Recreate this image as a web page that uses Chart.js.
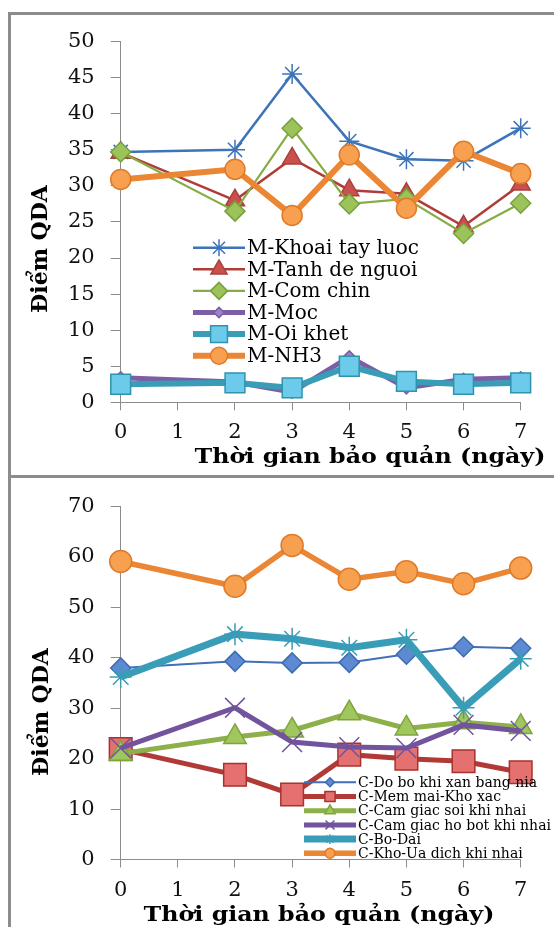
<!DOCTYPE html>
<html lang="vi">
    <head>
        <meta charset="UTF-8" />
        <title>Điểm QDA</title>
        <script src="https://cdn.jsdelivr.net/npm/chart.js"></script>
        <style>
            body {
                margin: 0;
                background: #fff;
            }
            #page {
                position: relative;
                width: 554px;
                height: 927px;
                overflow: hidden;
                background: #fff;
            }
            #frame {
                position: absolute;
                left: 8px;
                top: 12px;
                width: 700px;
                height: 1000px;
                border-left: 3px solid #8c8c8c;
                border-top: 3px solid #8c8c8c;
            }
            #divider {
                position: absolute;
                left: 8px;
                top: 475px;
                width: 700px;
                height: 3px;
                background: #8c8c8c;
            }
            canvas {
                position: absolute;
                left: 0;
            }
            .xtitle,
            .ytitle {
                position: absolute;
                font-family: "DejaVu Serif", serif;
                font-weight: bold;
                font-size: 21px;
                white-space: nowrap;
                color: #000;
                line-height: 1;
            }
            .xtitle {
                transform: translateX(-50%) scaleX(1.13);
            }
            .ytitle {
                transform: translate(-50%, -50%) rotate(-90deg);
                font-size: 22px;
            }
        </style>
    </head>
    <body>
        <div id="page">
            <div id="frame"></div>
            <div id="divider"></div>
            <canvas id="topChart" width="554" height="463" style="top: 13px"></canvas>
            <canvas id="bottomChart" width="554" height="449" style="top: 478px"></canvas>
            <div class="ytitle" style="left: 39px; top: 249px">Điểm QDA</div>
            <div class="xtitle" style="left: 370px; top: 445px">Thời gian bảo quản (ngày)</div>
            <div class="ytitle" style="left: 40px; top: 712px">Điểm QDA</div>
            <div class="xtitle" style="left: 319px; top: 903px">Thời gian bảo quản (ngày)</div>
        </div>
        <script>
            // storage days (x values)
            const days = [0, 2, 3, 4, 5, 6, 7];

            // top chart: mui (M-)
            const khoaiTayLuoc = [34.7, 35.0, 45.5, 36.2, 33.7, 33.5, 38.0];
            const tanhDeNguoi = [34.6, 28.0, 33.8, 29.4, 28.9, 24.4, 30.2];
            const comChin = [34.7, 26.5, 38.0, 27.5, 28.2, 23.4, 27.6];
            const moc = [3.4, 2.8, 1.4, 6.3, 2.0, 3.2, 3.4];
            const oiKhet = [2.5, 2.7, 2.0, 5.0, 2.9, 2.5, 2.7];
            const nh3 = [30.9, 32.3, 25.9, 34.3, 26.9, 34.8, 31.7];

            // bottom chart: cam giac (C-)
            const doBo = [38.0, 39.3, 39.0, 39.1, 40.7, 42.2, 41.9];
            const memMai = [21.9, 16.8, 12.9, 20.8, 20.0, 19.5, 17.3];
            const camGiacSoi = [21.0, 24.3, 25.6, 29.0, 26.0, 27.2, 26.3];
            const hoBot = [22.1, 30.1, 23.3, 22.3, 22.1, 26.7, 25.5];
            const boDai = [36.2, 44.7, 43.8, 42.0, 43.6, 30.1, 39.8];
            const khoUa = [59.1, 54.2, 62.3, 55.6, 57.1, 54.7, 57.8];

            const toPoints = (values) => values.map((v, i) => ({ x: days[i], y: v }));

            function series(label, values, color, width, style, radius, fill, edge) {
                return {
                    label: label,
                    data: toPoints(values),
                    borderColor: color,
                    borderWidth: width,
                    pointStyle: style,
                    pointRadius: radius,
                    pointBackgroundColor: fill,
                    pointBorderColor: edge,
                    pointBorderWidth: 1.5,
                    clip: false,
                };
            }

            // legend drawn inside the plot, line + marker + text
            const insideLegend = {
                id: "insideLegend",
                afterDraw(chart, args, opts) {
                    const ctx = chart.ctx;
                    ctx.save();
                    chart.data.datasets.forEach((ds, i) => {
                        const y = opts.top + i * opts.rowGap;
                        const x0 = opts.left;
                        const x1 = opts.left + opts.lineLength;
                        ctx.strokeStyle = ds.borderColor;
                        ctx.lineWidth = ds.borderWidth;
                        ctx.beginPath();
                        ctx.moveTo(x0, y);
                        ctx.lineTo(x1, y);
                        ctx.stroke();
                        ctx.fillStyle = ds.pointBackgroundColor;
                        ctx.strokeStyle = ds.pointBorderColor;
                        ctx.lineWidth = ds.pointBorderWidth;
                        Chart.helpers.drawPoint(
                            ctx,
                            {
                                pointStyle: ds.pointStyle,
                                radius: ds.pointRadius * opts.markerScale,
                                borderWidth: ds.pointBorderWidth,
                                rotation: 0,
                            },
                            (x0 + x1) / 2,
                            y
                        );
                        ctx.fillStyle = "#000";
                        ctx.font = opts.font;
                        ctx.textBaseline = "middle";
                        ctx.textAlign = "left";
                        ctx.fillText(ds.label, x1 + opts.gap, y + 1);
                    });
                    ctx.restore();
                },
            };

            function makeOptions(yMax, yStep, pad, xHeight, legend) {
                return {
                    responsive: false,
                    animation: false,
                    devicePixelRatio: 1,
                    layout: { padding: pad },
                    plugins: {
                        legend: { display: false },
                        tooltip: { enabled: false },
                        insideLegend: legend,
                    },
                    scales: {
                        x: {
                            type: "linear",
                            min: 0,
                            max: 7,
                            afterFit: (scale) => {
                                scale.height = xHeight;
                            },
                            ticks: {
                                stepSize: 1,
                                padding: 10,
                                color: "#111",
                                font: { family: "DejaVu Serif", size: 21 },
                            },
                            grid: {
                                drawOnChartArea: false,
                                tickLength: 8,
                                color: "#8c8c8c",
                            },
                            border: { color: "#8c8c8c" },
                        },
                        y: {
                            min: 0,
                            max: yMax,
                            afterFit: (scale) => {
                                scale.width = 120.7;
                            },
                            ticks: {
                                stepSize: yStep,
                                padding: 16,
                                color: "#111",
                                font: { family: "DejaVu Serif", size: 21 },
                            },
                            grid: {
                                drawOnChartArea: false,
                                tickLength: 10,
                                color: "#8c8c8c",
                            },
                            border: { color: "#8c8c8c" },
                        },
                    },
                };
            }

            const topSets = [
                series("M-Khoai tay luoc", khoaiTayLuoc, "#3d73b8", 2.5, "star", 10, "#3d73b8", "#3d73b8"),
                series("M-Tanh de nguoi", tanhDeNguoi, "#b03c38", 2.5, "triangle", 11, "#c9504c", "#a8403c"),
                series("M-Com chin", comChin, "#86ad45", 2.2, "rectRot", 10, "#9cc25a", "#78a03c"),
                series("M-Moc", moc, "#7b5ea3", 5, "rectRot", 6, "#9b84c4", "#7b5ea3"),
                series("M-Oi khet", oiKhet, "#3a9db8", 6, "rect", 14, "#6ccbea", "#2f93ae"),
                series("M-NH3", nh3, "#ea8634", 6, "circle", 10, "#f7a04f", "#e07a28"),
            ];
            topSets.forEach((ds, i) => (ds.order = topSets.length - i));

            const bottomSets = [
                series("C-Do bo khi xan bang nia", doBo, "#3f70b8", 2, "rectRot", 10, "#5d8ad2", "#3d6cb0"),
                series("C-Mem mai-Kho xac", memMai, "#b23a36", 5, "rect", 16, "#e57070", "#a8322e"),
                series("C-Cam giac soi khi nhai", camGiacSoi, "#8db04a", 5, "triangle", 13, "#a0c65e", "#7fa43e"),
                series("C-Cam giac ho bot khi nhai", hoBot, "#71539e", 5, "crossRot", 14, "#71539e", "#71539e"),
                series("C-Bo-Dai", boDai, "#3a9db8", 7, "star", 11, "#3a9db8", "#3a9db8"),
                series("C-Kho-Ua dich khi nhai", khoUa, "#ea8634", 5.5, "circle", 11, "#f7a04f", "#e07a28"),
            ];
            bottomSets.forEach((ds, i) => (ds.order = bottomSets.length - i));

            new Chart(document.getElementById("topChart"), {
                type: "line",
                data: { datasets: topSets },
                options: makeOptions(50, 5, { top: 20.3, right: 33.3, left: 0, bottom: 0 }, 73.7, {
                    left: 193,
                    top: 234.7,
                    rowGap: 21.6,
                    lineLength: 52,
                    gap: 2,
                    markerScale: 0.85,
                    font: "20px 'DejaVu Serif'",
                }),
                plugins: [insideLegend],
            });

            new Chart(document.getElementById("bottomChart"), {
                type: "line",
                data: { datasets: bottomSets },
                options: makeOptions(70, 10, { top: 18.7, right: 33.3, left: 0, bottom: 0 }, 67.5, {
                    left: 304,
                    top: 304.3,
                    rowGap: 14.2,
                    lineLength: 52,
                    gap: 2,
                    markerScale: 0.45,
                    font: "14px 'DejaVu Serif'",
                }),
                plugins: [insideLegend],
            });
        </script>
    </body>
</html>
